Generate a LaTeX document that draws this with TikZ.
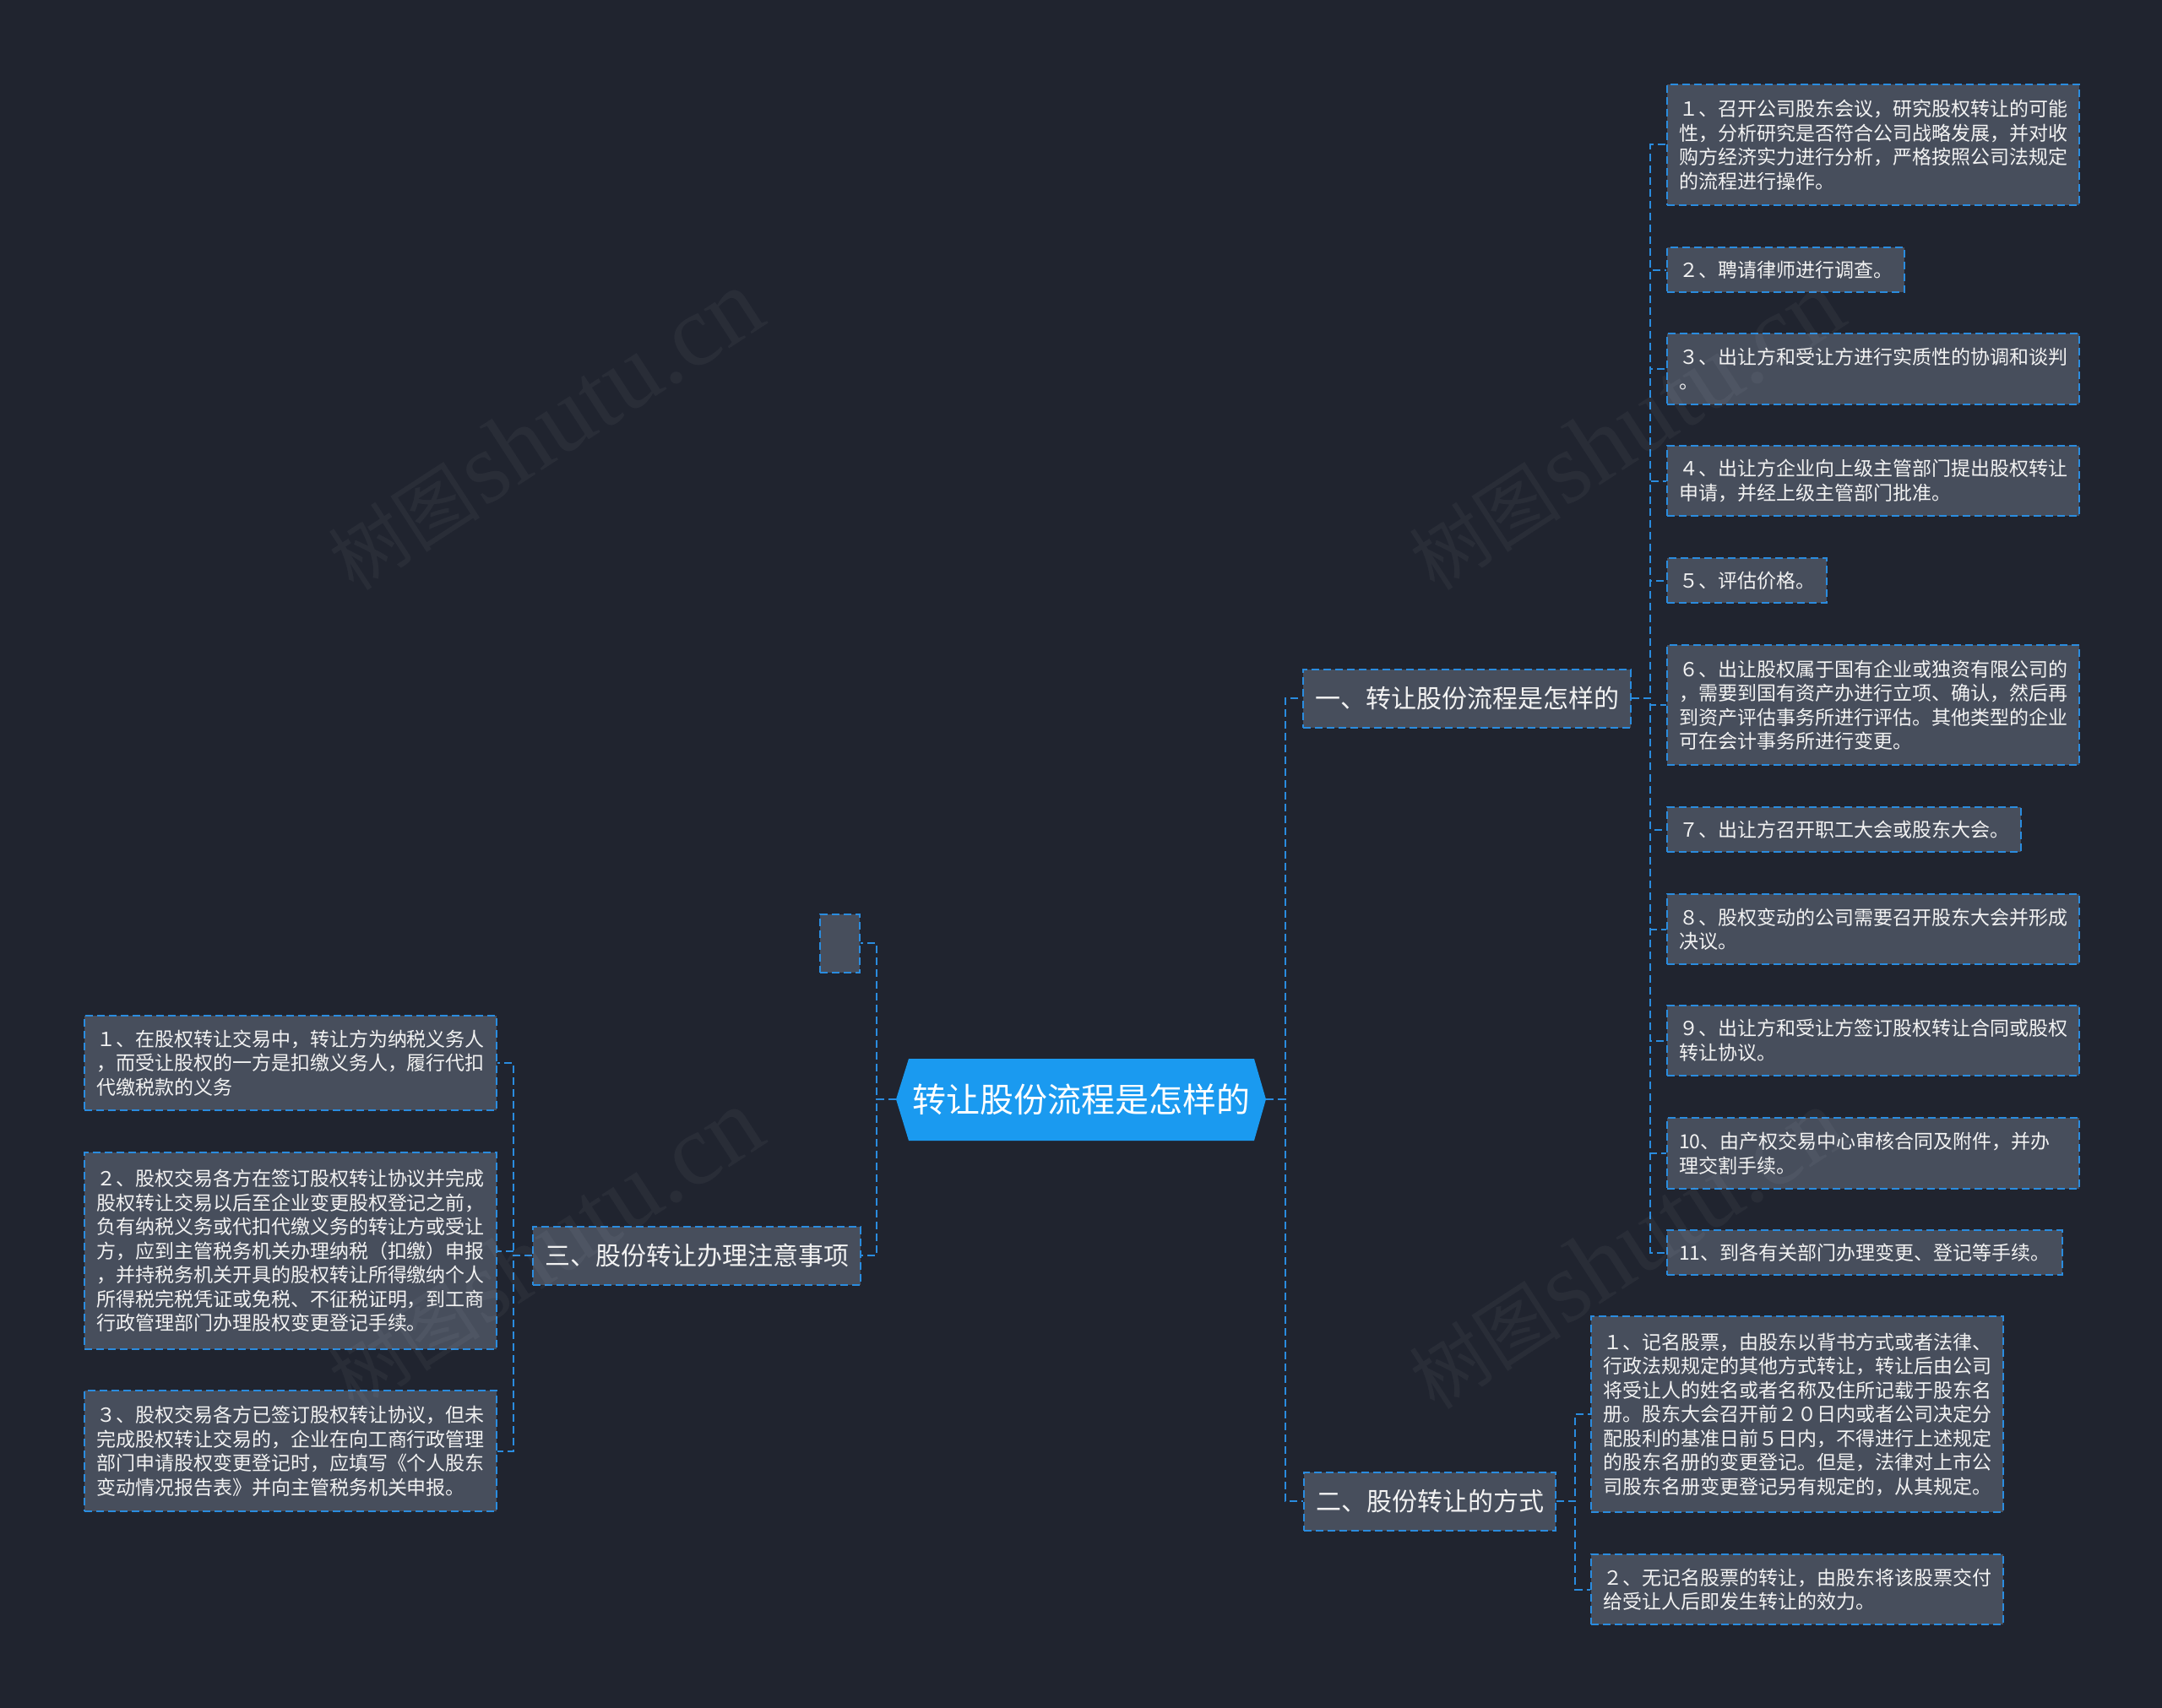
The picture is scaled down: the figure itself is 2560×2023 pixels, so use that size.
\documentclass[tikz,border=0pt]{standalone}
\usepackage{fontspec}
\newfontfamily\cjk{Noto Sans CJK SC}
\newfontfamily\wmfont{Liberation Serif}
\definecolor{bgc}{HTML}{20242F}
\definecolor{boxc}{HTML}{474E5C}
\definecolor{linec}{HTML}{2A8CDF}
\definecolor{rootc}{HTML}{1A9AF0}
\definecolor{txtc}{HTML}{F2F2F2}
\tikzset{
  box/.style={draw=linec, line width=1pt, dash pattern=on 4.5pt off 2.5pt, fill=boxc, text=txtc, inner xsep=7pt, inner ysep=0pt, align=left},
  leaf/.style={box, font=\cjk\fontsize{11.5}{14.25}\selectfont, anchor=north west},
  branch/.style={box, font=\cjk\fontsize{15}{18}\selectfont, anchor=west, minimum height=34.5pt},
  conn/.style={draw=linec, line width=1pt, dash pattern=on 4.5pt off 2.5pt},
  wm/.style={rotate=33, text=white, opacity=0.045, inner sep=0pt},
}
\begin{document}
\begin{tikzpicture}[x=0.5pt,y=-0.5pt]
\useasboundingbox (0,0) rectangle (2560,2023);
\fill[bgc] (0,0) rectangle (2560,2023);

% root
\fill[rootc] (1061,1302) -- (1076,1254) -- (1485,1254) -- (1499,1302) -- (1485,1351) -- (1076,1351) -- cycle;
\node[text=white, font=\cjk\fontsize{20}{24}\selectfont, minimum width=219pt, minimum height=48.5pt, inner sep=0pt] (root) at (1280,1302) {转让股份流程是怎样的};

% branches
\node[branch] (b1) at (1542,827) {一、转让股份流程是怎样的};
\node[branch] (b2) at (1543,1778) {二、股份转让的方式};
\node[branch] (b3) at (630,1487) {三、股份转让办理注意事项};
\node[box, anchor=west, minimum width=23.5pt, minimum height=34.5pt, inner sep=0pt] (b0) at (970,1117) {};

% leaves of branch 1
\node[leaf, minimum height=71.5pt] (l1) at (1973,99) {１、召开公司股东会议，研究股权转让的可能\\性，分析研究是否符合公司战略发展，并对收\\购方经济实力进行分析，严格按照公司法规定\\的流程进行操作。};
\node[leaf, minimum height=26.5pt] (l2) at (1973,292) {２、聘请律师进行调查。};
\node[leaf, minimum height=42pt] (l3) at (1973,394) {３、出让方和受让方进行实质性的协调和谈判\\。};
\node[leaf, minimum height=41.5pt] (l4) at (1973,527) {４、出让方企业向上级主管部门提出股权转让\\申请，并经上级主管部门批准。};
\node[leaf, minimum height=26.5pt] (l5) at (1973,660) {５、评估价格。};
\node[leaf, minimum height=71pt] (l6) at (1973,763) {６、出让股权属于国有企业或独资有限公司的\\，需要到国有资产办进行立项、确认，然后再\\到资产评估事务所进行评估。其他类型的企业\\可在会计事务所进行变更。};
\node[leaf, minimum height=26.5pt] (l7) at (1973,955) {７、出让方召开职工大会或股东大会。};
\node[leaf, minimum height=41.5pt] (l8) at (1973,1058) {８、股权变动的公司需要召开股东大会并形成\\决议。};
\node[leaf, minimum height=41.5pt] (l9) at (1973,1190) {９、出让方和受让方签订股权转让合同或股权\\转让协议。};
\node[leaf, minimum height=42pt, text width=230pt] (l10) at (1973,1323) {10、由产权交易中心审核合同及附件，并办\\理交割手续。};
\node[leaf, minimum height=26.5pt] (l11) at (1973,1456) {11、到各有关部门办理变更、登记等手续。};

% leaves of branch 2
\node[leaf, minimum height=116pt] (m1) at (1883,1558) {１、记名股票，由股东以背书方式或者法律、\\行政法规规定的其他方式转让，转让后由公司\\将受让人的姓名或者名称及住所记载于股东名\\册。股东大会召开前２０日内或者公司决定分\\配股利的基准日前５日内，不得进行上述规定\\的股东名册的变更登记。但是，法律对上市公\\司股东名册变更登记另有规定的，从其规定。};
\node[leaf, minimum height=41.5pt] (m2) at (1883,1840) {２、无记名股票的转让，由股东将该股票交付\\给受让人后即发生转让的效力。};

% leaves of branch 3
\node[leaf, minimum height=56pt] (n1) at (99,1202) {１、在股权转让交易中，转让方为纳税义务人\\，而受让股权的一方是扣缴义务人，履行代扣\\代缴税款的义务};
\node[leaf, minimum height=116.5pt] (n2) at (99,1364) {２、股权交易各方在签订股权转让协议并完成\\股权转让交易以后至企业变更股权登记之前，\\负有纳税义务或代扣代缴义务的转让方或受让\\方，应到主管税务机关办理纳税（扣缴）申报\\，并持税务机关开具的股权转让所得缴纳个人\\所得税完税凭证或免税、不征税证明，到工商\\行政管理部门办理股权变更登记手续。};
\node[leaf, minimum height=71.5pt] (n3) at (99,1646) {３、股权交易各方已签订股权转让协议，但未\\完成股权转让交易的，企业在向工商行政管理\\部门申请股权变更登记时，应填写《个人股东\\变动情况报告表》并向主管税务机关申报。};

% connectors
\draw[conn] (root.east) -- ++(23,0) |- (b1.west);
\draw[conn] (root.east) -- ++(23,0) |- (b2.west);
\draw[conn] (root.west) -- ++(-23,0) |- (b0.east);
\draw[conn] (root.west) -- ++(-23,0) |- (b3.east);
\foreach \n in {l1,l2,l3,l4,l5,l6,l7,l8,l9,l10,l11}
  \draw[conn] (b1.east) -- ++(22,0) |- (\n.west);
\foreach \n in {m1,m2}
  \draw[conn] (b2.east) -- ++(22,0) |- (\n.west);
\foreach \n in {n1,n2,n3}
  \draw[conn] (b3.west) -- ++(-22,0) |- (\n.east);

% watermarks
\node[wm] (wm1) at (645,510) {{\cjk\fontsize{45}{50}\selectfont 树图}\,{\wmfont\fontsize{60}{66}\selectfont shutu.cn}};
\node[wm] (wm2) at (1925,510) {{\cjk\fontsize{45}{50}\selectfont 树图}\,{\wmfont\fontsize{60}{66}\selectfont shutu.cn}};
\node[wm] (wm3) at (645,1480) {{\cjk\fontsize{45}{50}\selectfont 树图}\,{\wmfont\fontsize{60}{66}\selectfont shutu.cn}};
\node[wm] (wm4) at (1925,1480) {{\cjk\fontsize{45}{50}\selectfont 树图}\,{\wmfont\fontsize{60}{66}\selectfont shutu.cn}};
\end{tikzpicture}
\end{document}
